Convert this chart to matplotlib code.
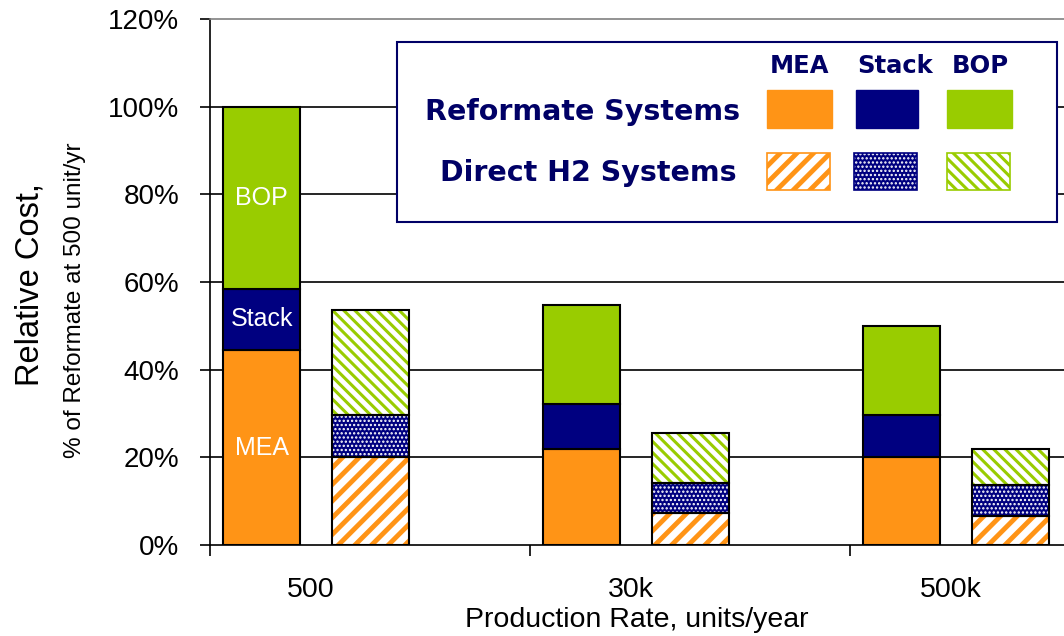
import matplotlib.pyplot as plt
from matplotlib.patches import Rectangle
import numpy as np

# data
rates = ['500', '30k', '500k']
ref_mea = [44.4, 21.9, 20.0]
ref_stack = [14.1, 10.2, 9.6]
ref_bop = [41.5, 22.6, 20.3]
h2_mea = [20.0, 7.3, 6.6]
h2_stack = [9.6, 6.8, 7.1]
h2_bop = [23.9, 11.4, 8.2]

orange = '#FF9416'
navy = '#000080'
green = '#99CC00'
txtnavy = '#000066'

plt.rcParams['font.family'] = ['Liberation Sans', 'DejaVu Sans']

fig = plt.figure(figsize=(10.64, 6.36), dpi=100)
ax = fig.add_axes([210 / 1064, 91 / 636, 854 / 1064, 526 / 636])

x = np.arange(len(rates))
w = 0.24
off = 0.17


def hbar(xs, vals, bottom, face, hcol, hatch, hlw):
    bars = ax.bar(xs, vals, w, bottom=bottom, color=face, edgecolor=hcol,
                  hatch=hatch, linewidth=0, zorder=3)
    for b in bars:
        if hasattr(b, 'set_hatch_linewidth'):
            b.set_hatch_linewidth(hlw)
    ax.bar(xs, vals, w, bottom=bottom, fill=False, edgecolor='black',
           linewidth=1.5, zorder=4)


# reformate (solid)
b0 = np.zeros(3)
for vals, col in [(ref_mea, orange), (ref_stack, navy), (ref_bop, green)]:
    ax.bar(x - off, vals, w, bottom=b0, color=col, edgecolor='black',
           linewidth=1.5, zorder=3)
    b0 = b0 + np.array(vals)

# direct H2 (hatched)
b1 = np.zeros(3)
hbar(x + off, h2_mea, b1, 'white', orange, '//', 3.5)
b1 = b1 + np.array(h2_mea)
hbar(x + off, h2_stack, b1, navy, 'white', '....', 1.1)
b1 = b1 + np.array(h2_stack)
hbar(x + off, h2_bop, b1, 'white', green, '\\\\\\', 2.2)

# segment labels on first bar
seg_b = [0, ref_mea[0], ref_mea[0] + ref_stack[0]]
for name, bot, v in zip(['MEA', 'Stack', 'BOP'], seg_b,
                        [ref_mea[0], ref_stack[0], ref_bop[0]]):
    ax.text(x[0] - off, bot + v / 2, name, color='white', fontsize=18,
            ha='center', va='center', zorder=5)

ax.set_ylim(0, 120)
ax.set_xlim(-106 / 320, 748 / 320)
ax.set_yticks(np.arange(0, 121, 20))
ax.set_yticklabels([f'{v}%' for v in range(0, 121, 20)], fontsize=20)
for v in range(20, 101, 20):
    ax.axhline(v, color='black', linewidth=1.2, zorder=1)
ax.set_xticks(x - 0.015)
ax.set_xticklabels(rates, fontsize=20.5)
ax.set_xticks(x - 106 / 320, minor=True)
ax.tick_params(axis='x', which='major', length=0, pad=23)
ax.tick_params(axis='x', which='minor', length=8, width=1.2, direction='out')
ax.tick_params(axis='y', length=7, width=1.2, direction='out', pad=15)

for s in ['left', 'bottom']:
    ax.spines[s].set_linewidth(1.2)
ax.spines['right'].set_visible(False)
ax.spines['top'].set_color('#808080')
ax.spines['top'].set_linewidth(1.2)

ax.set_xlabel('Production Rate, units/year', fontsize=20.5, labelpad=3)

fig.text(30 / 1064, 1 - 285 / 636, 'Relative Cost,', rotation=90, fontsize=23.5,
         ha='center', va='center')
fig.text(75 / 1064, 1 - 300 / 636, '% of Reformate at 500 unit/yr',
         rotation=90, fontsize=17.5, ha='center', va='center')

# legend box
W, H = 1064, 636


def fr(x0, y0, x1, y1):
    return (x0 / W, 1 - y1 / H), (x1 - x0) / W, (y1 - y0) / H


xy, ww, hh = fr(397, 42, 1057, 222)
fig.patches.append(Rectangle(xy, ww, hh, transform=fig.transFigure,
                             facecolor='white', edgecolor=txtnavy,
                             linewidth=1.5, zorder=10))
lf = dict(family='DejaVu Sans', weight='bold', color=txtnavy, zorder=11)
for name, cx in zip(['MEA', 'Stack', 'BOP'], [800, 895, 980]):
    fig.text(cx / W, 1 - 66 / H, name, fontsize=17.5, ha='center',
             va='center', **lf)
fig.text(740 / W, 1 - 112 / H, 'Reformate Systems', fontsize=20.5,
         ha='right', va='center', **lf)
fig.text(737 / W, 1 - 173 / H, 'Direct H2 Systems', fontsize=20.5,
         ha='right', va='center', **lf)

for (xa, xb), col in zip([(767, 832), (856, 918), (947, 1012)],
                         [orange, navy, green]):
    xy, ww, hh = fr(xa, 90, xb, 128)
    fig.patches.append(Rectangle(xy, ww, hh, transform=fig.transFigure,
                                 facecolor=col, edgecolor=col, zorder=11))

hstyles = [('white', orange, '//', 3.5), (navy, 'white', '....', 1.1),
           ('white', green, '\\\\\\', 2.2)]
for (xa, xb), (fc, hc, ht, hl), bc in zip([(767, 830), (854, 917), (947, 1010)],
                                          hstyles, [orange, navy, green]):
    xy, ww, hh = fr(xa, 153, xb, 190)
    r = Rectangle(xy, ww, hh, transform=fig.transFigure, facecolor=fc,
                  edgecolor=hc, hatch=ht, linewidth=0, zorder=11)
    if hasattr(r, 'set_hatch_linewidth'):
        r.set_hatch_linewidth(hl)
    fig.patches.append(r)
    fig.patches.append(Rectangle(xy, ww, hh, transform=fig.transFigure,
                                 fill=False, edgecolor=bc, linewidth=1.2,
                                 zorder=12))

fig.savefig('out.png', dpi=100)
